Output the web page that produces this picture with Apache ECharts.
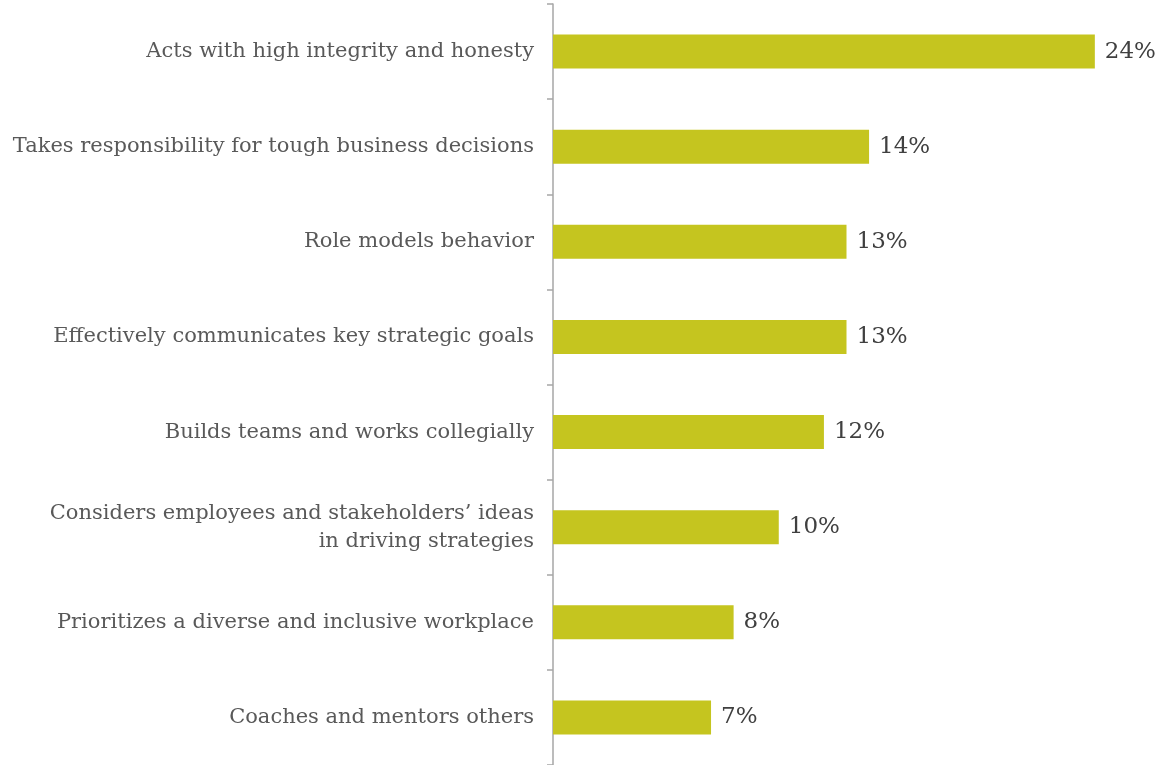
<!DOCTYPE html>
<html><head><meta charset="utf-8">
<script src="https://cdn.jsdelivr.net/npm/echarts@6/dist/echarts.min.js"></script>
<style>html,body{margin:0;padding:0;background:#fff}#c{width:1155px;height:765px}</style>
</head><body><div id="c"></div>
<script>
const categories = [
  "Acts with high integrity and honesty",
  "Takes responsibility for tough business decisions",
  "Role models behavior",
  "Effectively communicates key strategic goals",
  "Builds teams and works collegially",
  "Considers employees and stakeholders\u2019 ideas\nin driving strategies",
  "Prioritizes a diverse and inclusive workplace",
  "Coaches and mentors others"
];
const values = [24, 14, 13, 13, 12, 10, 8, 7];

const chart = echarts.init(document.getElementById('c'));
chart.setOption({
  animation: false,
  grid: {left: 553, right: 15, top: 4, bottom: 0, containLabel: false},
  xAxis: {type: 'value', min: 0, max: 26, show: false},
  yAxis: {
    type: 'category', data: categories, inverse: true,
    axisLine: {show: true, lineStyle: {color: '#A6A6A6', width: 1.5}},
    axisTick: {show: true, alignWithLabel: false, length: 6, lineStyle: {color: '#A6A6A6', width: 1.5}},
    axisLabel: {margin: 19, fontFamily: 'DejaVu Serif', fontSize: 21, color: '#595959', lineHeight: 28, align: 'right'}
  },
  series: [{
    type: 'bar', data: values, barWidth: 34,
    itemStyle: {color: '#C5C51F'},
    label: {show: true, position: 'right', distance: 10, formatter: '{c}%', fontFamily: 'DejaVu Serif', fontSize: 23, color: '#404040'}
  }]
});
</script></body></html>
